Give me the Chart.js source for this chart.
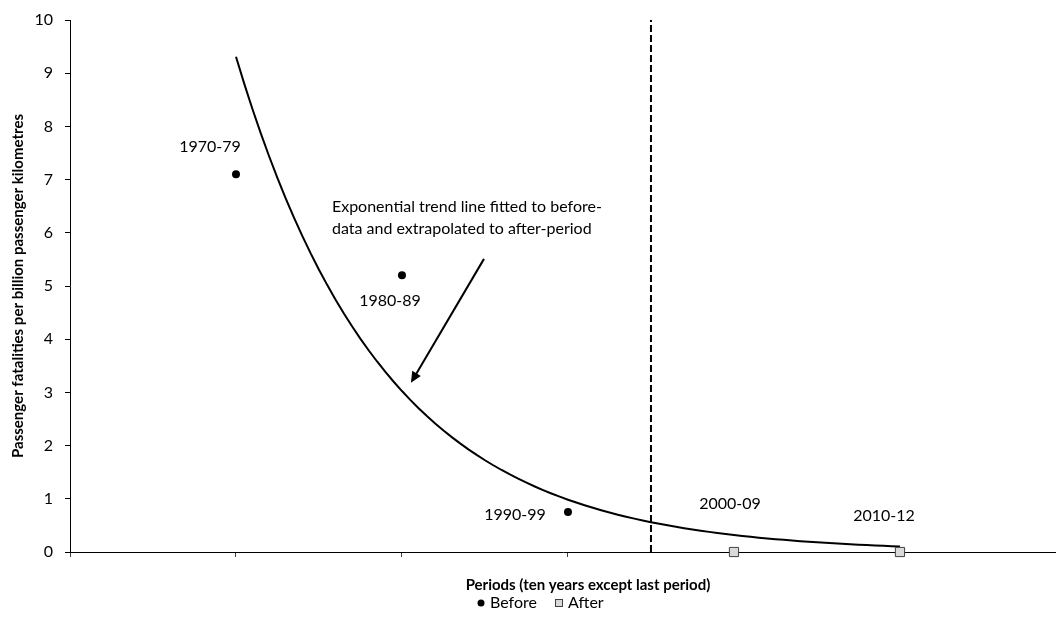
<!DOCTYPE html>
<html>
<head>
<meta charset="utf-8">
<script src="https://cdn.jsdelivr.net/npm/chart.js@4.4.1/dist/chart.umd.min.js"></script>
<style>
  html, body { margin: 0; padding: 0; background: #fff; }
  #wrap { width: 1056px; height: 618px; position: relative; }
</style>
</head>
<body>
<div id="wrap"><canvas id="c" width="1056" height="618"></canvas></div>
<script>
// Periods and fatality rates (per billion passenger kilometres)
const periods = ['1970-79', '1980-89', '1990-99', '2000-09', '2010-12'];
const periodX = [1, 2, 3, 4, 5];
const beforeValues = [7.1, 5.2, 0.75];
const afterValues = [0, 0];
const yTicks = [0, 1, 2, 3, 4, 5, 6, 7, 8, 9, 10];
const splitX = 3.5;                // boundary between before- and after-period
const noteLines = ['Exponential trend line fitted to before-', 'data and extrapolated to after-period'];

const FONT = 'Lato, "Open Sans", "DejaVu Sans", sans-serif';

// Exponential least-squares fit (ln y = a + b x) over the before-period
const bx = periodX.slice(0, beforeValues.length);
const ly = beforeValues.map(v => Math.log(v));
const n = bx.length;
const mx = bx.reduce((s, v) => s + v, 0) / n;
const my = ly.reduce((s, v) => s + v, 0) / n;
let sxy = 0, sxx = 0;
for (let i = 0; i < n; i++) { sxy += (bx[i] - mx) * (ly[i] - my); sxx += (bx[i] - mx) ** 2; }
const slope = sxy / sxx;
const icpt = my - slope * mx;
const trendPts = [];
for (let k = 0; k <= 80; k++) {
  const x = 1 + k * 0.05;
  trendPts.push({ x: x, y: Math.exp(icpt + slope * x) });
}

const beforePts = beforeValues.map((v, i) => ({ x: periodX[i], y: v }));
const afterPts = afterValues.map((v, i) => ({ x: periodX[beforeValues.length + i], y: v }));

// label offsets (pixels) relative to each point
const labelOffsets = [[-26, -27], [-12, 25], [-53, 3], [-4, -48], [-16, -36]];

const overlay = {
  id: 'overlay',
  afterDatasetsDraw(chart) {
    const ctx = chart.ctx;
    const xs = chart.scales.x, ys = chart.scales.y;
    ctx.save();
    ctx.fillStyle = '#000';
    ctx.font = '16px ' + FONT;
    ctx.textAlign = 'center';
    ctx.textBaseline = 'middle';
    periods.forEach((p, i) => {
      const v = i < beforeValues.length ? beforeValues[i] : afterValues[i - beforeValues.length];
      const px = xs.getPixelForValue(periodX[i]);
      const py = ys.getPixelForValue(v);
      ctx.fillText(p, px + labelOffsets[i][0], py + labelOffsets[i][1]);
    });

    // note text
    ctx.textAlign = 'left';
    const nx = xs.getPixelForValue(1.578);
    ctx.fillText(noteLines[0], nx, ys.getPixelForValue(6.49));
    ctx.fillText(noteLines[1], nx, ys.getPixelForValue(6.08));

    // arrow pointing at trend line
    const x0 = xs.getPixelForValue(2.494), y0 = ys.getPixelForValue(5.51);
    const x1 = xs.getPixelForValue(2.054), y1 = ys.getPixelForValue(3.18);
    const ang = Math.atan2(y1 - y0, x1 - x0);
    const head = 11, hw = 5;
    ctx.strokeStyle = '#000';
    ctx.lineWidth = 2;
    ctx.beginPath();
    ctx.moveTo(x0, y0);
    ctx.lineTo(x1 - Math.cos(ang) * head * 0.8, y1 - Math.sin(ang) * head * 0.8);
    ctx.stroke();
    ctx.beginPath();
    ctx.moveTo(x1, y1);
    ctx.lineTo(x1 - Math.cos(ang) * head - Math.sin(ang) * hw, y1 - Math.sin(ang) * head + Math.cos(ang) * hw);
    ctx.lineTo(x1 - Math.cos(ang) * head + Math.sin(ang) * hw, y1 - Math.sin(ang) * head - Math.cos(ang) * hw);
    ctx.closePath();
    ctx.fill();

    // axis titles
    ctx.font = 'bold 15px ' + FONT;
    ctx.textAlign = 'center';
    ctx.fillText('Periods (ten years except last period)', 588, 585);
    ctx.save();
    ctx.translate(18, 286);
    ctx.rotate(-Math.PI / 2);
    ctx.fillText('Passenger fatalities per billion passenger kilometres', 0, 0);
    ctx.restore();

    // legend
    const ly0 = 603;
    ctx.font = '16px ' + FONT;
    ctx.textAlign = 'left';
    ctx.beginPath();
    ctx.arc(481, ly0, 3.5, 0, Math.PI * 2);
    ctx.fillStyle = '#000';
    ctx.fill();
    ctx.fillText('Before', 490, ly0);
    ctx.fillStyle = '#d9d9d9';
    ctx.fillRect(555, ly0 - 4, 8, 8);
    ctx.strokeStyle = '#404040';
    ctx.lineWidth = 1;
    ctx.strokeRect(555.5, ly0 - 3.5, 7, 7);
    ctx.fillStyle = '#000';
    ctx.fillText('After', 568, ly0);
    ctx.restore();
  }
};

new Chart(document.getElementById('c'), {
  type: 'scatter',
  data: {
    datasets: [
      {
        label: 'Before',
        data: beforePts,
        pointStyle: 'circle',
        pointRadius: 4,
        backgroundColor: '#000',
        borderColor: '#000',
        borderWidth: 0,
        clip: false,
        order: 1
      },
      {
        label: 'After',
        data: afterPts,
        pointStyle: 'rect',
        pointRadius: 6.5,
        backgroundColor: '#d9d9d9',
        borderColor: '#404040',
        borderWidth: 1,
        clip: false,
        order: 0
      },
      {
        label: 'Trend',
        type: 'line',
        data: trendPts,
        showLine: true,
        pointRadius: 0,
        borderColor: '#000',
        borderWidth: 2,
        fill: false,
        tension: 0,
        order: 2
      },
      {
        label: 'Split',
        type: 'line',
        data: [{ x: splitX, y: 0 }, { x: splitX, y: 10 }],
        showLine: true,
        pointRadius: 0,
        borderColor: '#000',
        borderWidth: 2,
        borderDash: [7, 3],
        fill: false,
        order: 3
      }
    ]
  },
  options: {
    responsive: false,
    animation: false,
    layout: { autoPadding: false, padding: { top: 20, right: 0, bottom: 0, left: 0 } },
    plugins: {
      legend: { display: false },
      tooltip: { enabled: false }
    },
    scales: {
      x: {
        type: 'linear',
        min: 0,
        max: 5.94,
        afterBuildTicks(scale) {
          scale.ticks = [0].concat(periodX).map(v => ({ value: v }));
        },
        afterFit(scale) {
          scale.height = 66;
          scale.paddingLeft = 0;
          scale.paddingRight = 0;
        },
        ticks: { display: false },
        grid: { drawOnChartArea: false, drawTicks: true, tickLength: 5, color: '#404040', lineWidth: 1 },
        border: { display: true, color: '#000', width: 1 }
      },
      y: {
        type: 'linear',
        min: 0,
        max: 10,
        afterBuildTicks(scale) {
          scale.ticks = yTicks.map(v => ({ value: v }));
        },
        afterFit(scale) {
          scale.width = 70;
          scale.paddingTop = 0;
          scale.paddingBottom = 0;
        },
        ticks: { color: '#000', font: { size: 16, family: FONT }, padding: 12 },
        grid: { drawOnChartArea: false, drawTicks: true, tickLength: 5, color: '#000', lineWidth: 1 },
        border: { display: true, color: '#000', width: 1 }
      }
    }
  },
  plugins: [overlay]
});
</script>
</body>
</html>
